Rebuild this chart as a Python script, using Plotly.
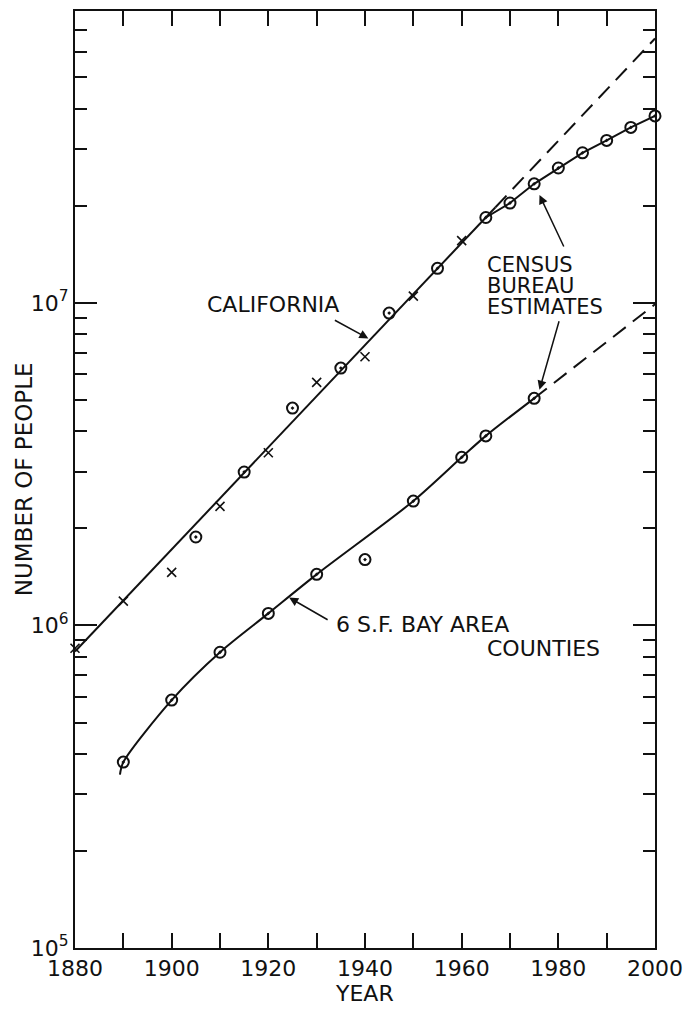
import plotly.graph_objects as go
import math

# ---- data ----
ca_census_years = [1880, 1890, 1900, 1910, 1920, 1930, 1940, 1950, 1960]
ca_census_pop = [8.5e5, 1.19e6, 1.46e6, 2.34e6, 3.43e6, 5.67e6, 6.81e6, 1.05e7, 1.56e7]

ca_est_years = [1905, 1915, 1925, 1935, 1945, 1955, 1965, 1970, 1975, 1980, 1985, 1990, 1995, 2000]
ca_est_pop = [1.88e6, 2.99e6, 4.72e6, 6.28e6, 9.3e6, 1.28e7, 1.84e7, 2.04e7, 2.34e7, 2.62e7, 2.92e7, 3.19e7, 3.50e7, 3.80e7]

# California trend line (solid part, then dashed extrapolation)
ca_trend_solid_years = [1880, 1967]
ca_trend_solid_pop = [8.3e5, 1.98e7]
ca_trend_dash_years = [1967, 2000]
ca_trend_dash_pop = [1.98e7, 6.6e7]

# Census Bureau estimates curve for California
ca_curve_years = [1965, 1970, 1975, 1980, 1985, 1990, 1995, 2000]
ca_curve_pop = [1.84e7, 2.04e7, 2.34e7, 2.62e7, 2.92e7, 3.19e7, 3.50e7, 3.80e7]

bay_years = [1890, 1900, 1910, 1920, 1930, 1940, 1950, 1960, 1965, 1975]
bay_pop = [3.77e5, 5.87e5, 8.26e5, 1.09e6, 1.44e6, 1.60e6, 2.43e6, 3.32e6, 3.87e6, 5.06e6]

bay_curve_years = [1889.3, 1890, 1900, 1910, 1920, 1930, 1950, 1960, 1965, 1975]
bay_curve_pop = [3.45e5, 3.77e5, 5.87e5, 8.26e5, 1.09e6, 1.44e6, 2.43e6, 3.32e6, 3.87e6, 5.06e6]
bay_dash_years = [1975, 2000]
bay_dash_pop = [5.06e6, 9.9e6]

x_tick_years = list(range(1880, 2001, 10))
x_tick_labels = [str(y) if (y - 1880) % 20 == 0 else "" for y in x_tick_years]
y_major = [1e5, 1e6, 1e7]
y_major_labels = ["10<sup>5</sup>", "10<sup>6</sup>", "10<sup>7</sup>"]
y_minor = [m * 10 ** e for e in (5, 6, 7) for m in range(2, 10) if m * 10 ** e < 8e7]

FONT = "DejaVu Sans"
BLACK = "#111111"

fig = go.Figure()

fig.add_trace(go.Scatter(x=ca_trend_solid_years, y=ca_trend_solid_pop, mode="lines",
                         line=dict(color=BLACK, width=2), showlegend=False))
fig.add_trace(go.Scatter(x=ca_trend_dash_years, y=ca_trend_dash_pop, mode="lines",
                         line=dict(color=BLACK, width=2, dash="16px,9px"), showlegend=False))
fig.add_trace(go.Scatter(x=ca_curve_years, y=ca_curve_pop, mode="lines",
                         line=dict(color=BLACK, width=2), showlegend=False))
fig.add_trace(go.Scatter(x=bay_curve_years, y=bay_curve_pop, mode="lines",
                         line=dict(color=BLACK, width=2, shape="spline", smoothing=0.8),
                         showlegend=False))
fig.add_trace(go.Scatter(x=bay_dash_years, y=bay_dash_pop, mode="lines",
                         line=dict(color=BLACK, width=2, dash="16px,9px"), showlegend=False))

circ = dict(symbol="circle-open-dot", size=11, color=BLACK, line=dict(color=BLACK, width=2))
fig.add_trace(go.Scatter(x=ca_est_years, y=ca_est_pop, mode="markers", marker=circ,
                         showlegend=False, cliponaxis=False))
fig.add_trace(go.Scatter(x=bay_years, y=bay_pop, mode="markers", marker=circ,
                         showlegend=False, cliponaxis=False))
fig.add_trace(go.Scatter(x=ca_census_years, y=ca_census_pop, mode="markers",
                         marker=dict(symbol="x-thin-open", size=9, color=BLACK,
                                     line=dict(color=BLACK, width=1.6)),
                         showlegend=False, cliponaxis=False))

tf = dict(family=FONT, size=22, color=BLACK)
af = dict(family=FONT, size=22, color=BLACK)
cf = dict(family=FONT, size=21, color=BLACK)

fig.update_xaxes(range=[1880, 2000], tickmode="array", tickvals=x_tick_years,
                 ticktext=x_tick_labels, ticks="inside", ticklen=15, tickwidth=1.5,
                 tickcolor=BLACK, showline=True, linecolor=BLACK, linewidth=2,
                 mirror="ticks", showgrid=False, zeroline=False, tickfont=tf)
fig.update_yaxes(type="log", range=[5, 7.905], tickmode="array", tickvals=y_major,
                 ticktext=y_major_labels, ticks="inside", ticklen=22, tickwidth=1.5,
                 tickcolor=BLACK, showline=True, linecolor=BLACK, linewidth=2,
                 mirror="ticks", showgrid=False, zeroline=False, tickfont=tf,
                 minor=dict(tickmode="array", tickvals=y_minor, ticks="inside",
                            ticklen=12, tickwidth=1.5, tickcolor=BLACK, showgrid=False))

L = math.log10
ann = []
# text labels
ann.append(dict(text="CALIFORNIA", xref="paper", yref="paper", x=(274 - 75) / 583,
                y=(948 - 303) / 939, xanchor="center", yanchor="middle", showarrow=False, font=af))
for txt, py in (("CENSUS", 264), ("BUREAU", 285), ("ESTIMATES", 306)):
    ann.append(dict(text=txt, xref="paper", yref="paper", x=(488 - 75) / 583,
                    y=(948 - py) / 939, xanchor="left", yanchor="middle",
                    showarrow=False, font=cf, borderpad=0))
ann.append(dict(text="6 S.F. BAY AREA", xref="paper", yref="paper", x=(335 - 75) / 583,
                y=(948 - 624) / 939, xanchor="left", yanchor="middle", showarrow=False, font=af))
ann.append(dict(text="COUNTIES", xref="paper", yref="paper", x=(487 - 75) / 583,
                y=(948 - 648) / 939, xanchor="left", yanchor="middle", showarrow=False, font=af))
ann.append(dict(text="NUMBER OF PEOPLE", xref="paper", yref="paper", x=(24 - 75) / 583,
                y=(948 - 478) / 939, xanchor="center", yanchor="middle", textangle=-90,
                showarrow=False, font=dict(family=FONT, size=23, color=BLACK)))
ann.append(dict(text="YEAR", xref="paper", yref="paper", x=0.499, y=(948 - 994) / 939,
                xanchor="center", yanchor="middle", showarrow=False, font=af))

# arrows
arrow = dict(showarrow=True, arrowhead=2, arrowsize=1.2, arrowwidth=1.5, arrowcolor=BLACK,
             text="", xref="x", yref="y")
ann.append(dict(arrow, x=1940.7, y=L(7.76e6), ax=-35, ay=-19))
ann.append(dict(arrow, x=1976.1, y=L(2.16e7), ax=25, ay=53))
ann.append(dict(arrow, x=1976.1, y=L(5.38e6), ax=20, ay=-70))
ann.append(dict(arrow, x=1924.3, y=L(1.22e6), ax=40, ay=23))

fig.update_layout(width=692, height=1013, margin=dict(l=75, r=34, t=9, b=65),
                  plot_bgcolor="white", paper_bgcolor="white", annotations=ann,
                  font=dict(family=FONT, color=BLACK))

fig.write_html("out.html")
